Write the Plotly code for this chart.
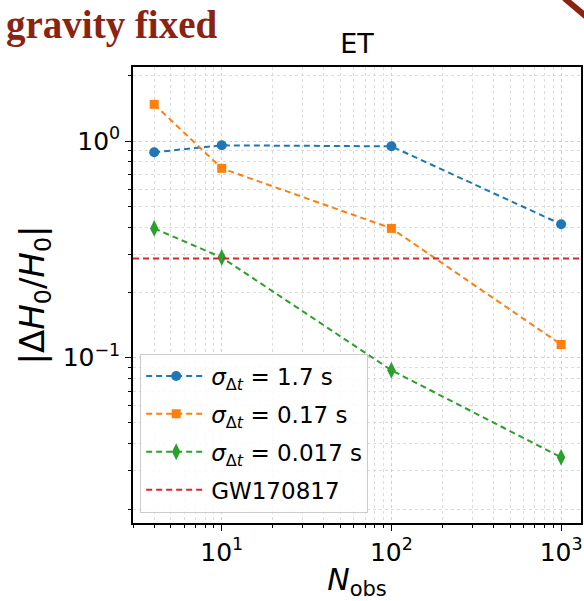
import plotly.graph_objects as go

n_obs = [4, 10, 100, 1000]
err_17 = [0.887, 0.955, 0.945, 0.413]
err_017 = [1.476, 0.748, 0.395, 0.115]
err_0017 = [0.395, 0.29, 0.0875, 0.0347]
gw170817 = 0.287

labels = ["<i>σ</i><sub>Δ<i>t</i></sub> = 1.7 s",
          "<i>σ</i><sub>Δ<i>t</i></sub> = 0.17 s",
          "<i>σ</i><sub>Δ<i>t</i></sub> = 0.017 s",
          "GW170817"]
colors = ["#1f77b4", "#ff7f0e", "#2ca02c", "#d62728"]
symbols = ["circle", "square", "diamond-tall"]

x_minor = [m * 10 ** e for e in range(0, 4) for m in range(2, 10)]
y_minor = [m * 10.0 ** e for e in range(-2, 1) for m in range(2, 10)]

x_range = [3.0, 1310]

fig = go.Figure()
for i, (ys, lab, c, s, ms) in enumerate(zip([err_17, err_017, err_0017], labels, colors, symbols, [10, 9, 12])):
    fig.add_trace(go.Scatter(x=n_obs, y=ys, name=lab, mode="lines+markers", legendgroup=f"g{i}",
                             line=dict(color=c, width=2, dash="6px,4px"),
                             marker=dict(symbol=s, size=ms, color=c)))
fig.add_trace(go.Scatter(x=x_range, y=[gw170817, gw170817], name=labels[3], mode="lines",
                         legendgroup="g3",
                         line=dict(color=colors[3], width=2, dash="6px,4px")))

axis_common = dict(type="log", showline=True, linecolor="black", linewidth=1.5, mirror=True,
                   ticks="outside", ticklen=6, tickcolor="black",
                   showgrid=True, gridcolor="#cfcfcf", griddash="3px,3px", gridwidth=1,
                   zeroline=False,
                   tickfont=dict(family="DejaVu Sans", size=25, color="black"))
minor_common = dict(ticks="outside", ticklen=3, tickcolor="black", showgrid=True,
                    gridcolor="#dcdcdc", griddash="3px,3px", gridwidth=1, tickmode="array")

fig.update_xaxes(**axis_common, range=[0.4771, 3.1173],
                 tickvals=[10, 100, 1000], ticktext=["10<sup>1</sup>", "10<sup>2</sup>", "10<sup>3</sup>"],
                 minor=dict(**minor_common, tickvals=x_minor),
                 title=dict(text="<i>N</i><sub>obs</sub>", font=dict(family="DejaVu Sans", size=30, color="black"),
                            standoff=2))
fig.update_yaxes(**axis_common, range=[-1.763, 0.3415],
                 tickvals=[0.1, 1], ticktext=["10<sup>−1</sup>", "10<sup>0</sup>"],
                 minor=dict(**minor_common, tickvals=y_minor),
                 title=dict(text="|Δ<i>H</i><sub>0</sub>/<i>H</i><sub>0</sub>|",
                            font=dict(family="DejaVu Sans", size=34, color="black"), standoff=8))

fig.update_layout(
    width=584, height=601,
    margin=dict(l=133, r=1, t=67, b=78),
    paper_bgcolor="white", plot_bgcolor="white",
    showlegend=True,
    legend=dict(x=0.016, y=0.023, xanchor="left", yanchor="bottom",
                bgcolor="rgba(255,255,255,0.85)", bordercolor="#cccccc", borderwidth=1,
                font=dict(family="DejaVu Sans", size=23, color="black"),
                itemwidth=60, tracegroupgap=5),
    title=dict(text="ET", xref="paper", x=0.5, xanchor="center", y=1 - 44/601, yanchor="middle",
               font=dict(family="DejaVu Sans", size=27, color="black")),
    annotations=[dict(text="<b>gravity fixed</b>", xref="paper", yref="paper",
                      x=(3 - 132.7) / 450, y=(522.7 - 25) / 456, xanchor="left", yanchor="middle",
                      showarrow=False,
                      font=dict(family="Liberation Serif", size=39, color="#8b2312"))],
    shapes=[dict(type="line", xref="paper", yref="paper",
                 x0=(566 - 132.7) / 450, y0=(522.7 + 2) / 456,
                 x1=(590 - 132.7) / 450, y1=(522.7 - 18) / 456,
                 line=dict(color="#8b2312", width=6))],
)

fig.write_html("out.html")
